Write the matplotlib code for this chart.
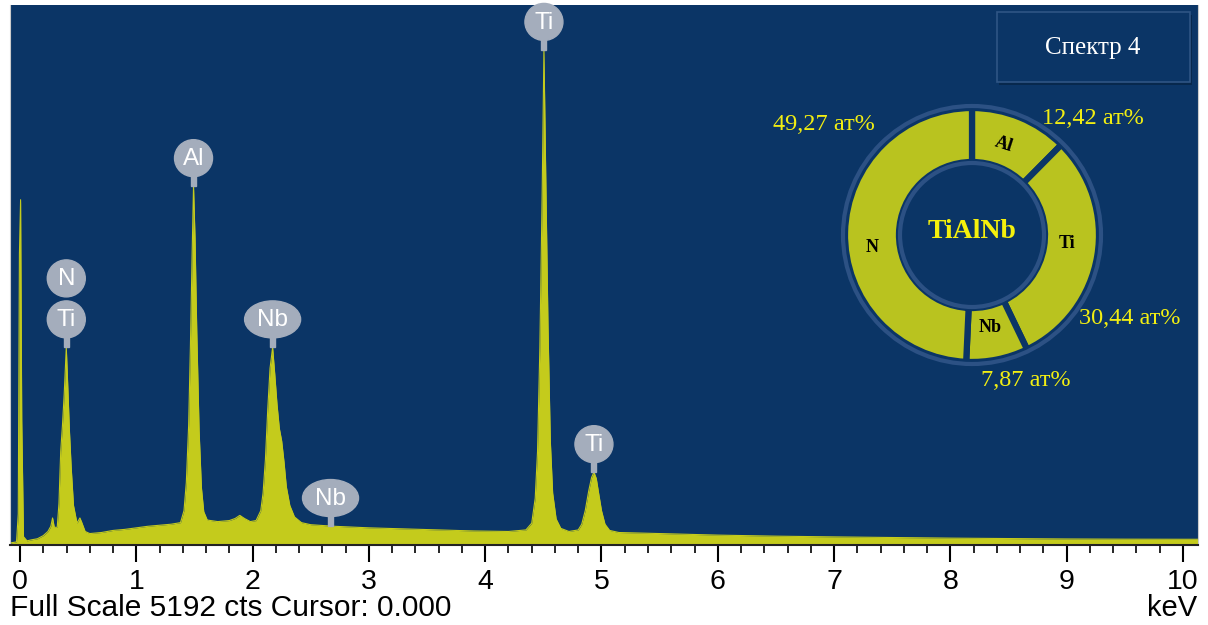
import numpy as np
import matplotlib.pyplot as plt
from matplotlib.patches import Ellipse, Rectangle, Circle
from matplotlib.transforms import IdentityTransform

# EDS spectrum (keV, counts)
energy_kev = [-0.08, -0.03, -0.015, -0.005, 0.005, 0.015, 0.03, 0.06, 0.10, 0.15,
              0.20, 0.24, 0.265, 0.28, 0.295, 0.32, 0.335, 0.35, 0.365, 0.38,
              0.39, 0.398, 0.41, 0.425, 0.44, 0.46, 0.49, 0.515, 0.53, 0.56,
              0.6, 0.7, 0.8, 0.9, 1.0, 1.1, 1.2, 1.3, 1.38, 1.41,
              1.43, 1.45, 1.465, 1.48, 1.492, 1.505, 1.52, 1.54, 1.56, 1.58,
              1.61, 1.7, 1.8, 1.85, 1.89, 1.93, 1.98, 2.03, 2.07, 2.09,
              2.11, 2.13, 2.15, 2.172, 2.19, 2.21, 2.23, 2.25, 2.27, 2.29,
              2.32, 2.36, 2.42, 2.5, 2.7, 3.0, 3.3, 3.6, 3.9, 4.2,
              4.35, 4.40, 4.43, 4.45, 4.47, 4.49, 4.505, 4.52, 4.54, 4.56,
              4.58, 4.61, 4.65, 4.72, 4.80, 4.83, 4.86, 4.89, 4.915, 4.935,
              4.955, 4.975, 5.0, 5.03, 5.07, 5.15, 5.5, 6.0, 6.5, 7.0,
              7.5, 8.0, 8.5, 9.0, 9.5, 10.0, 10.13]
counts = [20, 30, 300, 2800, 3320, 1200, 80, 40, 50, 60,
          90, 130, 180, 260, 170, 170, 400, 900, 1150, 1450,
          1700, 1900, 1550, 1100, 750, 380, 210, 260, 220, 130,
          110, 120, 140, 150, 165, 180, 190, 200, 215, 330,
          600, 1150, 1900, 2800, 3450, 2950, 2050, 1100, 550, 320,
          240, 225, 235, 255, 285, 255, 225, 235, 330, 500,
          820, 1300, 1700, 1900, 1650, 1350, 1120, 1000, 800, 560,
          380, 270, 215, 195, 180, 165, 155, 145, 135, 130,
          145, 210, 450, 900, 1900, 3400, 4760, 3600, 2100, 1000,
          500, 250, 160, 130, 145, 200, 330, 520, 650, 700,
          640, 500, 330, 200, 140, 120, 110, 95, 85, 78,
          72, 66, 62, 58, 56, 55, 55]
full_scale = 5192

# peak markers
peak_labels = ["Ti", "N", "Al", "Nb", "Nb", "Ti", "Ti"]
peak_energy = [0.398, 0.398, 1.492, 2.172, 2.67, 4.505, 4.935]
peak_stack = [0, 1, 0, 0, 0, 0, 0]

# composition, at%
elements = ["Al", "Ti", "Nb", "N"]
at_percent = [12.42, 30.44, 7.87, 49.27]
pct_text = ["12,42 ат%", "30,44 ат%", "7,87 ат%", "49,27 ат%"]

BG = "#0b3566"
FILL = "#c4cb1c"
DONUT = "#b9c31f"
BUBBLE = "#a4adbc"
W, H = 1208, 625

fig = plt.figure(figsize=(W / 100, H / 100), dpi=100)
ax = fig.add_axes([10 / W, 80 / H, 1188 / W, 540 / H])
ax.set_facecolor(BG)
ax.fill_between(energy_kev, counts, color=FILL, lw=0)
ax.plot(energy_kev, counts, color=FILL, lw=0.8)
ax.set_xlim(-0.086, 10.129)
ax.set_ylim(0, full_scale)
ax.set_yticks([])
ax.set_xticks(range(11))
ax.set_xticks(np.arange(0, 10.01, 0.2), minor=True)
ax.tick_params(axis='x', which='major', length=12, width=1.5, labelsize=20.5, pad=5)
ax.tick_params(axis='x', which='minor', length=6, width=1.2)
for lab in ax.get_xticklabels():
    lab.set_fontfamily('Liberation Sans')
ax.spines['top'].set_visible(False)
ax.spines['left'].set_color('#cccccc')
ax.spines['right'].set_color('#cccccc')
ax.spines['bottom'].set_color('#222222')
ax.spines['bottom'].set_linewidth(1.5)

fig.text(10 / W, 1 - 608 / H, "Full Scale 5192 cts Cursor: 0.000", fontsize=21.5,
         family='Liberation Sans', va='center', ha='left')
fig.text(1197 / W, 1 - 608 / H, "keV", fontsize=21, family='Liberation Sans',
         va='center', ha='right')

# peak bubbles
idt = IdentityTransform()
for lab, e, lvl in zip(peak_labels, peak_energy, peak_stack):
    c = np.interp(e, energy_kev, counts)
    tx, ty = ax.transData.transform((e, c))
    cy = ty + 28 + 41 * lvl
    w = 56 if lab == "Nb" else 38
    if lvl == 0:
        fig.add_artist(Rectangle((tx - 2.5, ty), 5, 12, transform=idt,
                                 color=BUBBLE, zorder=5))
    fig.add_artist(Ellipse((tx, cy), w, 37, transform=idt, color=BUBBLE, zorder=6))
    fig.text(tx, cy - 1, lab, transform=idt, color='white', fontsize=17.5,
             family='Liberation Sans', ha='center', va='center', zorder=7)

# composition donut
cx, cy = 972, 235
dax = fig.add_axes([(cx - 210) / W, (H - cy - 210) / H, 420 / W, 420 / H])
dax.pie(at_percent, radius=127, startangle=90, counterclock=False,
        colors=[DONUT] * 4,
        wedgeprops=dict(width=54, edgecolor=BG, linewidth=4.5))
dax.add_patch(Circle((0, 0), 129, fill=False, edgecolor='#2c5184', lw=3))
dax.add_patch(Circle((0, 0), 72, fill=False, edgecolor='#2c5184', lw=3))
dax.set_xlim(-210, 210)
dax.set_ylim(-210, 210)
dax.axis('off')

wedge_pos = [(32, 90), (95, -8), (18, -92), (-100, -12)]
wedge_rot = [-18, 0, 0, 0]
for el, (x, y), r in zip(elements, wedge_pos, wedge_rot):
    dax.text(x, y, el, ha='center', va='center', fontsize=13, weight='bold',
             family='Liberation Serif', color='black', rotation=r)
pct_pos = [(121, 117), (158, -83), (54, -146), (-148, 111)]
for t, (x, y) in zip(pct_text, pct_pos):
    dax.text(x, y, t, ha='center', va='center', fontsize=17.5,
             family='Liberation Serif', color='#f2ee12')
dax.text(0, 3, "TiAlNb", ha='center', va='center', fontsize=20, weight='bold',
         family='Liberation Serif', color='#f5f00c')

# spectrum title box
fig.add_artist(Rectangle((999 / W, 1 - 85 / H), 193 / W, 70 / H,
                         transform=fig.transFigure, facecolor='#07284d',
                         edgecolor='none', zorder=4))
fig.add_artist(Rectangle((997 / W, 1 - 82 / H), 193 / W, 70 / H,
                         transform=fig.transFigure, facecolor=BG,
                         edgecolor='#2f5585', lw=1.2, zorder=5))
fig.text(1093 / W, 1 - 48 / H, "Спектр 4", fontsize=18, family='Liberation Serif',
         color='white', ha='center', va='center', zorder=6)

fig.savefig("out.png", dpi=100)
